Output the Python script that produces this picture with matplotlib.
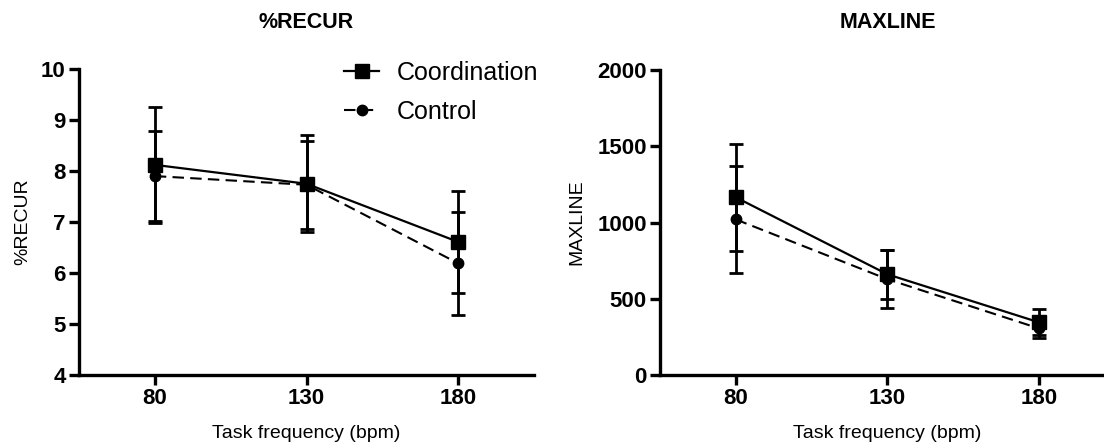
import matplotlib
matplotlib.use("Agg")
import matplotlib.pyplot as plt
from matplotlib.lines import Line2D

plt.rcParams['font.family'] = ['Liberation Sans', 'DejaVu Sans']

freq = [80, 130, 180]
freq_labels = ['80', '130', '180']
series_names = ['Coordination', 'Control']

recur_coord = [8.12, 7.75, 6.61]
recur_coord_err = [1.13, 0.95, 1.00]
recur_ctrl = [7.90, 7.73, 6.19]
recur_ctrl_err = [0.89, 0.86, 1.01]

maxline_coord = [1165, 660, 345]
maxline_coord_err = [352, 160, 85]
maxline_ctrl = [1020, 628, 305]
maxline_ctrl_err = [350, 190, 60]

W, H = 1104, 444
fig = plt.figure(figsize=(W / 100, H / 100), dpi=100)

def px(x0, y0, x1, y1):
    return [x0 / W, 1 - y1 / H, (x1 - x0) / W, (y1 - y0) / H]

axL = fig.add_axes(px(79, 69, 534, 375))
axR = fig.add_axes(px(660, 70, 1115, 375))

def draw(ax, c, ce, k, ke, ylim, yticks, ylabel, ylab_x):
    ax.errorbar(freq, k, yerr=ke, color='black', lw=1.5, ls=(0, (5.5, 3)),
                marker='o', ms=7.5, capsize=5, capthick=2.0, elinewidth=2.0,
                zorder=3)
    ax.errorbar(freq, c, yerr=ce, color='black', lw=1.6, ls='-',
                marker='s', ms=9.5, capsize=5, capthick=2.0, elinewidth=2.0,
                zorder=4)
    ax.set_xlim(55, 205)
    ax.set_ylim(*ylim)
    ax.set_xticks(freq)
    ax.set_xticklabels(freq_labels)
    ax.set_yticks(yticks)
    for s in ['top', 'right']:
        ax.spines[s].set_visible(False)
    for s in ['left', 'bottom']:
        ax.spines[s].set_linewidth(2.4)
    ax.tick_params(width=2.4, length=7.5, labelsize=16, pad=2)
    for lab in ax.get_xticklabels() + ax.get_yticklabels():
        lab.set_fontweight('bold')
    ax.set_ylabel(ylabel, fontsize=14)
    ax.yaxis.set_label_coords(ylab_x, 0.5)
    ax.set_xlabel('Task frequency (bpm)', fontsize=14)
    ax.xaxis.set_label_coords(0.5, -0.165)

draw(axL, recur_coord, recur_coord_err, recur_ctrl, recur_ctrl_err,
     (4, 10), [4, 5, 6, 7, 8, 9, 10], '%RECUR', -0.106)
draw(axR, maxline_coord, maxline_coord_err, maxline_ctrl, maxline_ctrl_err,
     (0, 2000), [0, 500, 1000, 1500, 2000], 'MAXLINE', -0.163)

fig.text(306 / W, 1 - 23 / H, '%RECUR', ha='center', va='center',
         fontsize=15.5, fontweight='bold')
fig.text(888 / W, 1 - 23 / H, 'MAXLINE', ha='center', va='center',
         fontsize=15.5, fontweight='bold')

handles = [
    Line2D([], [], color='black', lw=1.6, ls='-', marker='s', ms=9.5),
    Line2D([], [], color='black', lw=1.5, ls=(0, (5.5, 3)), marker='o', ms=7.5),
]
axL.legend(handles, series_names, loc='upper left',
           bbox_to_anchor=(344 / W, 1 - 61 / H), bbox_transform=fig.transFigure,
           frameon=False, fontsize=18, handlelength=1.4, handletextpad=0.72,
           borderpad=0, borderaxespad=0, labelspacing=0.6)

fig.savefig('out.png', dpi=100)
